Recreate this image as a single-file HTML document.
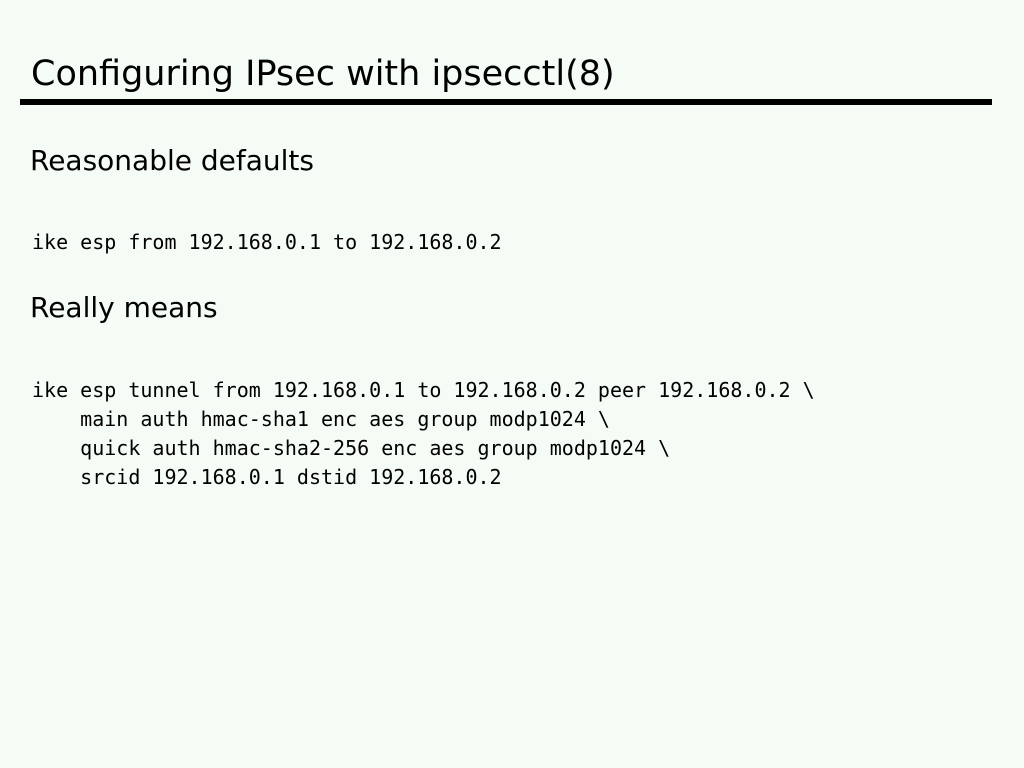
<!DOCTYPE html>
<html><head><style>
html,body{margin:0;padding:0;}
body{width:1024px;height:768px;background:#f5fbf5;position:relative;overflow:hidden;color:#000;}
.t{position:absolute;white-space:pre;line-height:1;}
.s{font-family:"DejaVu Sans","Liberation Sans",sans-serif;}
.m{font-family:"DejaVu Sans Mono","Liberation Mono",monospace;font-size:20px;}
</style></head><body>
<div class="t s" style="left:31px;top:57px;font-size:35px;">Configuring IPsec with ipsecctl(8)</div>
<div style="position:absolute;left:20px;top:99px;width:972px;height:6px;background:#000;"></div>
<div class="t s" style="left:30px;top:147px;font-size:28px;">Reasonable defaults</div>
<div class="t m" style="left:32px;top:232px;">ike esp from 192.168.0.1 to 192.168.0.2</div>
<div class="t s" style="left:30px;top:294px;font-size:28px;">Really means</div>
<div class="t m" style="left:32px;top:376px;line-height:29px;">ike esp tunnel from 192.168.0.1 to 192.168.0.2 peer 192.168.0.2 \
    main auth hmac-sha1 enc aes group modp1024 \
    quick auth hmac-sha2-256 enc aes group modp1024 \
    srcid 192.168.0.1 dstid 192.168.0.2</div>
</body></html>
